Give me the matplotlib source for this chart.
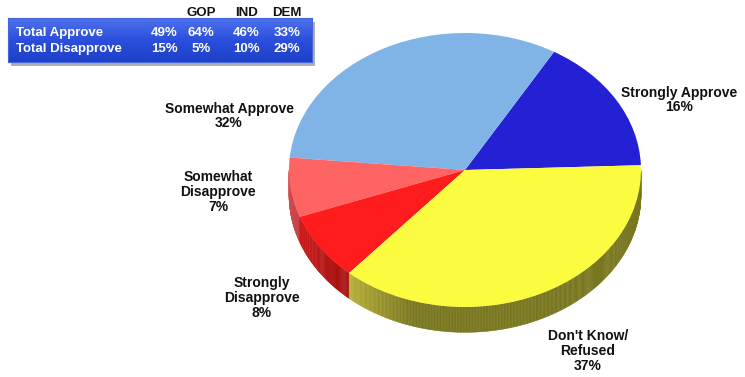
import numpy as np
import matplotlib.pyplot as plt
from matplotlib.patches import Polygon
import matplotlib.colors as mcolors

plt.rcParams['font.family'] = ['Liberation Sans', 'DejaVu Sans']

W, H = 745, 377

# slices, counter-clockwise from the right edge
labels = ['Strongly Approve\n16%', 'Somewhat Approve\n32%', 'Somewhat\nDisapprove\n7%',
          'Strongly\nDisapprove\n8%', "Don't Know/\nRefused\n37%"]
values = [16, 32, 7, 8, 37]
colors = ['#2420d4', '#80b4e6', '#ff6464', '#ff1c1c', '#fbfb40']
side_light = ['#1a1890', '#5a80a8', '#d85050', '#d01818', '#b8b034']
side_dark = ['#1a1890', '#5a80a8', '#c04040', '#a81010', '#78761e']

# summary table
row_names = ['Total Approve', 'Total Disapprove']
col_names = ['GOP', 'IND', 'DEM']
approve = ['49%', '64%', '46%', '33%']
disapprove = ['15%', '5%', '10%', '29%']

fig = plt.figure(figsize=(W / 100, H / 100), dpi=100)

def fx(px):
    return px / W

def fy(py):
    return 1 - py / H

# pie axes: unit circle maps to the ellipse centred at (465, 170) px
cx, cy, rx, ry = 465, 170, 176, 137
depth = 0.185
ax = fig.add_axes([0, 0, 1, 1])
start = 2
wedges, _ = ax.pie(values, colors=colors, startangle=start, counterclock=True,
                   radius=1, wedgeprops=dict(linewidth=0, zorder=3))
ax.set_aspect('auto')
ax.set_xlim(-cx / rx, (W - cx) / rx)
ax.set_ylim(-(H - cy) / ry, cy / ry)
ax.axis('off')

# side wall, shaded strip by strip along the front half
bounds = start + 360 * np.cumsum([0] + values) / sum(values)
for i in range(len(values)):
    a0, a1 = bounds[i], bounds[i + 1]
    lo, hi = max(a0, 180), min(a1, 360)
    if hi <= lo:
        continue
    c0 = np.array(mcolors.to_rgb(side_light[i]))
    c1 = np.array(mcolors.to_rgb(side_dark[i]))
    ts = np.linspace(lo, hi, int((hi - lo) * 2) + 2)
    for t0, t1 in zip(ts[:-1], ts[1:]):
        tm = (t0 + t1) / 2
        f = np.clip((tm - lo) / 25, 0, 1)
        c = c0 * (1 - f) + c1 * f
        r0, r1 = np.radians(t0), np.radians(t1)
        pts = [(np.cos(r0), np.sin(r0)), (np.cos(r1), np.sin(r1)),
               (np.cos(r1), np.sin(r1) - depth), (np.cos(r0), np.sin(r0) - depth)]
        ax.add_patch(Polygon(pts, closed=True, facecolor=c, edgecolor=c,
                             linewidth=0.3, zorder=1))

# slice labels
lab_pos = [(679, 100), (229, 116), (218, 192), (262, 298), (588, 351)]
for txt, (x, y) in zip(labels, lab_pos):
    fig.text(fx(x), fy(y), txt, ha='center', va='center', fontsize=10,
             fontweight='bold', color='#111111', linespacing=1.05)

# table box: drop shadow, then gradient panel
bx, by, bw, bh = 8, 18, 304, 44
sax = fig.add_axes([fx(bx + 3), fy(by + bh + 4), bw / W, bh / H])
sax.set_facecolor('#b0b0b0')
sax.set_xticks([])
sax.set_yticks([])
for s in sax.spines.values():
    s.set_visible(False)
bax = fig.add_axes([fx(bx), fy(by + bh), bw / W, bh / H])
grad = np.linspace(0, 1, 64).reshape(-1, 1)
cmap = mcolors.LinearSegmentedColormap.from_list('box', ['#4f72ee', '#2b4fdc', '#1e40c8'])
bax.imshow(grad, aspect='auto', cmap=cmap, extent=[0, 1, 0, 1])
bax.set_xticks([])
bax.set_yticks([])
for s in bax.spines.values():
    s.set_color('#4466dd')
    s.set_linewidth(0.8)

val_x = [164, 201, 246, 287]
for name, x in zip(col_names, val_x[1:]):
    fig.text(fx(x), fy(13), name, ha='center', va='center', fontsize=9.5,
             fontweight='bold', color='#111111')
for name, vals, y in zip(row_names, [approve, disapprove], [33, 49]):
    fig.text(fx(16), fy(y), name, ha='left', va='center', fontsize=9.5,
             fontweight='bold', color='white')
    for v, x in zip(vals, val_x):
        fig.text(fx(x), fy(y), v, ha='center', va='center', fontsize=9.5,
                 fontweight='bold', color='white')

fig.savefig('out.png', dpi=100)
